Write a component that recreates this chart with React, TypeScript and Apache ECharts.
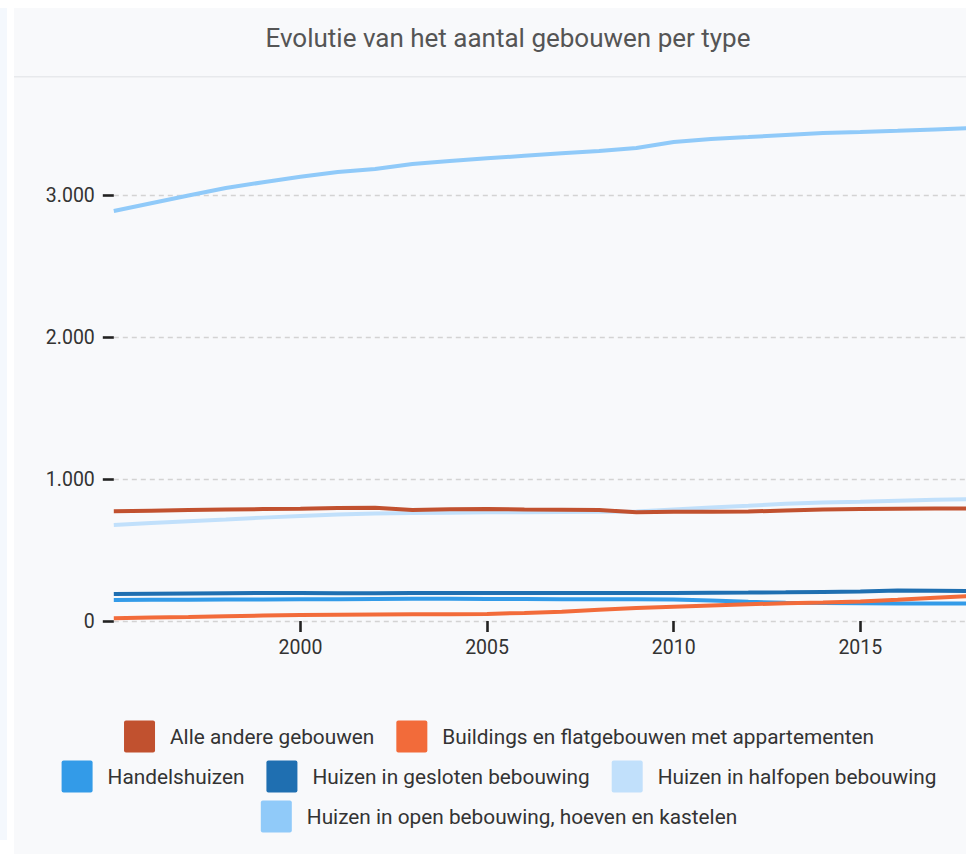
import React, { useEffect, useRef } from "react";
import * as echarts from "echarts";

const years = [1995, 1996, 1997, 1998, 1999, 2000, 2001, 2002, 2003, 2004, 2005, 2006, 2007, 2008, 2009, 2010, 2011, 2012, 2013, 2014, 2015, 2016, 2017, 2018];

const seriesNames = [
  "Alle andere gebouwen",
  "Buildings en flatgebouwen met appartementen",
  "Handelshuizen",
  "Huizen in gesloten bebouwing",
  "Huizen in halfopen bebouwing",
  "Huizen in open bebouwing, hoeven en kastelen",
];

const seriesColors = ["#c1512f", "#f26b3a", "#339be8", "#1f6fb1", "#c1e0fb", "#90caf9"];

const alleAndere = [773, 777, 781, 785, 788, 791, 795, 798, 782, 787, 789, 786, 784, 782, 765, 770, 770, 771, 778, 785, 788, 790, 792, 793];
const buildings = [19, 24, 28, 33, 38, 42, 44, 46, 47, 48, 50, 57, 66, 80, 92, 101, 110, 118, 125, 131, 138, 150, 163, 176];
const handelshuizen = [148, 149, 150, 151, 152, 153, 154, 155, 156, 156, 155, 155, 154, 154, 153, 152, 145, 135, 129, 126, 125, 124, 124, 124];
const gesloten = [190, 192, 194, 196, 197, 197, 196, 196, 197, 198, 198, 198, 198, 198, 197, 198, 199, 200, 202, 205, 208, 214, 213, 211];
const halfopen = [676, 690, 703, 715, 728, 740, 750, 757, 760, 763, 765, 766, 767, 769, 772, 786, 800, 812, 825, 834, 840, 847, 853, 859];
const openBebouwing = [2887, 2942, 2996, 3049, 3090, 3128, 3162, 3183, 3218, 3240, 3258, 3276, 3294, 3310, 3331, 3373, 3394, 3408, 3423, 3437, 3444, 3452, 3462, 3472];

const seriesValues = [alleAndere, buildings, handelshuizen, gesloten, halfopen, openBebouwing];

const xTickValues = [2000, 2005, 2010, 2015];
const legendRows = [[0, 1], [2, 3, 4], [5]];

const FONT = "Roboto";

function fmt(v: number) {
  return String(v).replace(/\B(?=(\d{3})+(?!\d))/g, ".");
}

export default function App() {
  const ref = useRef<HTMLDivElement>(null);

  useEffect(() => {
    const chart = echarts.init(ref.current!, null, { renderer: "svg" });
    const legendTops = [720.5, 760.5, 800.5];
    const option: any = {
      animation: false,
      backgroundColor: "#ffffff",
      textStyle: { fontFamily: FONT },
      graphic: [
        { type: "rect", z: -10, silent: true, shape: { x: 0, y: 8, width: 7, height: 832 }, style: { fill: "#f4f8fd" } },
        { type: "rect", z: -10, silent: true, shape: { x: 14, y: 8, width: 984, height: 846 }, style: { fill: "#f8f9fb" } },
        { type: "rect", z: 100, silent: true, shape: { x: 14, y: 8, width: 984, height: 68 }, style: { fill: "#f8f9fb" } },
        { type: "rect", z: 100, silent: true, shape: { x: 14, y: 76, width: 984, height: 1.5 }, style: { fill: "#e7e9ec" } },
        {
          type: "text",
          z: 101,
          silent: true,
          x: 508,
          y: 38,
          style: {
            text: "Evolutie van het aantal gebouwen per type",
            font: `26px ${FONT}`,
            fill: "#555555",
            textAlign: "center",
            textVerticalAlign: "middle",
          },
        },
      ],
      grid: { left: 113.8, right: 25.7, top: 53, bottom: 233, containLabel: false },
      legend: legendRows.map((row, r) => ({
        left: "center",
        top: legendTops[r],
        orient: "horizontal",
        padding: 0,
        icon: "path://M2,0H29Q31,0 31,2V30Q31,32 29,32H2Q0,32 0,30V2Q0,0 2,0Z",
        itemWidth: 31,
        itemHeight: 32,
        itemGap: 22,
        itemStyle: { borderWidth: 0 },
        textStyle: { fontFamily: FONT, fontSize: 20.8, color: "#333333", padding: [0, 0, 0, 10] },
        data: row.map((i) => seriesNames[i]),
      })),
      xAxis: {
        type: "value",
        min: 1995,
        max: 2018,
        interval: 5,
        axisLine: { show: false },
        axisTick: {
          show: true,
          length: 11,
          customValues: xTickValues,
          lineStyle: { color: "#222222", width: 2.6 },
        },
        axisLabel: {
          customValues: xTickValues,
          fontFamily: FONT,
          fontSize: 19.5,
          color: "#333333",
          margin: 16,
          formatter: (v: number) => String(v),
        },
        splitLine: { show: false },
      },
      yAxis: {
        type: "value",
        min: 0,
        max: 4000,
        interval: 1000,
        axisLine: { show: false },
        axisTick: { show: true, length: 11, lineStyle: { color: "#222222", width: 2.6 } },
        axisLabel: {
          fontFamily: FONT,
          fontSize: 19.5,
          color: "#333333",
          margin: 19,
          formatter: (v: number) => fmt(v),
        },
        splitLine: { show: true, lineStyle: { color: "#d3d3d3", width: 1.3, type: [5, 4] } },
      },
      series: seriesNames.map((name, i) => ({
        name,
        type: "line",
        z: 10 - i,
        showSymbol: false,
        symbol: "none",
        data: years.map((y, k) => [y, seriesValues[i][k]]),
        lineStyle: { width: 4, color: seriesColors[i] },
        itemStyle: { color: seriesColors[i], borderWidth: 0 },
        emphasis: { disabled: true },
      })),
    };
    chart.setOption(option);
    return () => chart.dispose();
  }, []);

  return (
    <div
      style={{
        position: "fixed",
        left: 0,
        top: 0,
        width: 966,
        height: 854,
        overflow: "hidden",
        background: "#ffffff",
      }}
    >
      <div ref={ref} style={{ width: 998, height: 854 }} />
    </div>
  );
}
